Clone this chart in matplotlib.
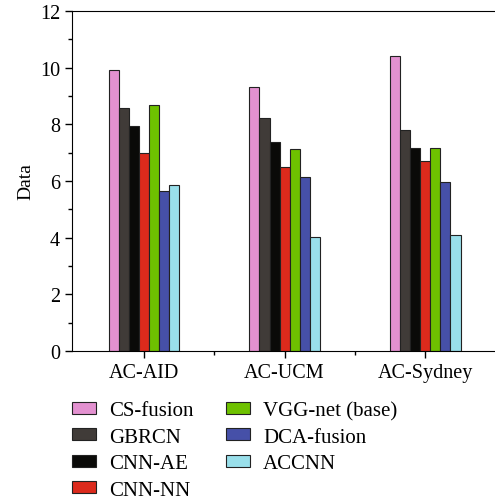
import matplotlib
matplotlib.use("Agg")
import matplotlib.pyplot as plt
import numpy as np
from matplotlib.ticker import MultipleLocator, FixedLocator

groups = ["AC-AID", "AC-UCM", "AC-Sydney"]
series = ["CS-fusion", "GBRCN", "CNN-AE", "CNN-NN", "VGG-net (base)", "DCA-fusion", "ACCNN"]
values = {
    "CS-fusion": [9.92, 9.33, 10.42],
    "GBRCN": [8.59, 8.21, 7.79],
    "CNN-AE": [7.95, 7.39, 7.15],
    "CNN-NN": [7.00, 6.48, 6.72],
    "VGG-net (base)": [8.68, 7.12, 7.16],
    "DCA-fusion": [5.65, 6.13, 5.96],
    "ACCNN": [5.85, 4.03, 4.09],
}
colors = ["#E391D0", "#403B38", "#0A0A08", "#DC2A1C", "#6EC100", "#4650A8", "#99DFEA"]

plt.rcParams["font.family"] = ["Liberation Serif", "DejaVu Serif"]
plt.rcParams["font.size"] = 14.5

fig = plt.figure(figsize=(4.95, 5.02), dpi=100)
ax = fig.add_axes([0.1455, 0.299, 0.856, 0.677])

x = np.arange(1, len(groups) + 1)
w = 0.5 / len(series)
for i, (name, c) in enumerate(zip(series, colors)):
    ax.bar(x - 0.25 + w * (i + 0.5), values[name], width=w, color=c,
           edgecolor="#222222", linewidth=0.8, label=name)

ax.set_xlim(0.49, 3.5)
ax.set_ylim(0, 12)
ax.set_xticks(x)
ax.set_xticklabels(groups)
ax.xaxis.set_minor_locator(FixedLocator([1.5, 2.5]))
ax.yaxis.set_major_locator(MultipleLocator(2))
ax.yaxis.set_minor_locator(MultipleLocator(1))
ax.tick_params(which="both", direction="out", top=False, right=False)
ax.tick_params(which="major", length=5, width=1)
ax.tick_params(which="minor", length=3, width=1)
ax.spines["right"].set_visible(False)
ax.set_ylabel("Data", fontsize=14, labelpad=4)

fig.legend(loc="upper left", bbox_to_anchor=(0.129, 0.216), ncol=2, frameon=False,
           handlelength=1.15, handleheight=0.5, handletextpad=0.6, columnspacing=1.6,
           labelspacing=0.36, fontsize=15, borderaxespad=0)

fig.savefig("out.png", dpi=100)
